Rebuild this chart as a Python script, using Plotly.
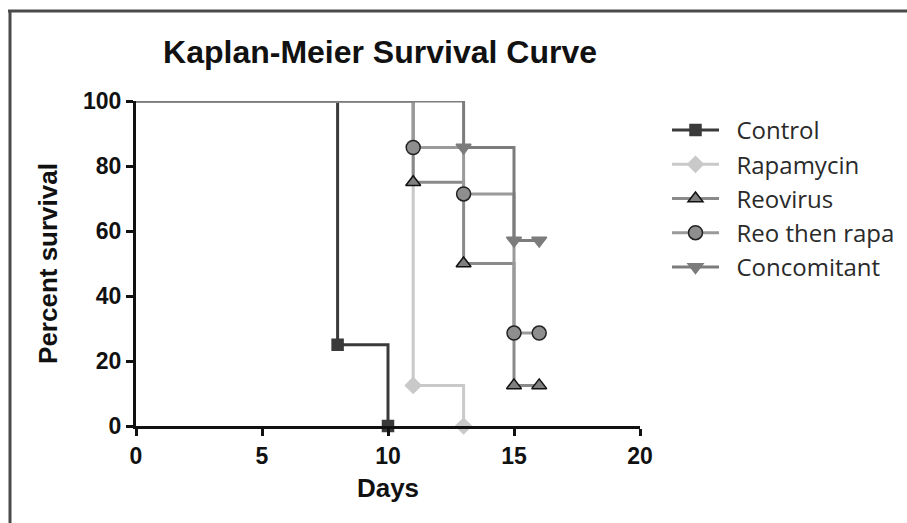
import plotly.graph_objects as go

# ---- data ----
groups = ["Control", "Rapamycin", "Reovirus", "Reo then rapa", "Concomitant"]
control_days = [0, 8, 10]
control_surv = [100, 25, 0]
rapa_days = [0, 11, 13]
rapa_surv = [100, 12.5, 0]
reo_days = [0, 11, 13, 15, 16]
reo_surv = [100, 75, 50, 12.5, 12.5]
reorapa_days = [0, 11, 13, 15, 16]
reorapa_surv = [100, 85.7, 71.4, 28.6, 28.6]
conc_days = [0, 13, 15, 16]
conc_surv = [100, 85.7, 57.1, 57.1]

x_ticks = [0, 5, 10, 15, 20]
y_ticks = [0, 20, 40, 60, 80, 100]

# ---- styles ----
styles = [
    dict(line="#3a3a3a", fill="#3a3a3a", edge="#3a3a3a", symbol="square", size=11),
    dict(line="#c9c9c9", fill="#c9c9c9", edge="#c9c9c9", symbol="diamond", size=12),
    dict(line="#8a8a8a", fill="#808080", edge="#111111", symbol="triangle-up", size=13),
    dict(line="#9a9a9a", fill="#8e8e8e", edge="#222222", symbol="circle", size=14),
    dict(line="#7c7c7c", fill="#7c7c7c", edge="#7c7c7c", symbol="triangle-down", size=13),
]
series = [
    (control_days, control_surv),
    (rapa_days, rapa_surv),
    (reo_days, reo_surv),
    (reorapa_days, reorapa_surv),
    (conc_days, conc_surv),
]

fig = go.Figure()
for name, (xs, ys), st in zip(groups, series, styles):
    mk = dict(symbol=st["symbol"], size=st["size"], color=st["fill"],
              line=dict(color=st["edge"], width=1.5))
    fig.add_trace(go.Scatter(x=xs, y=ys, mode="lines", line_shape="hv",
                             line=dict(color=st["line"], width=3),
                             showlegend=False, cliponaxis=False, hoverinfo="skip"))
    fig.add_trace(go.Scatter(x=xs[1:], y=ys[1:], mode="markers", marker=mk,
                             showlegend=False, cliponaxis=False, name=name))
    fig.add_trace(go.Scatter(x=[None], y=[None], mode="lines+markers",
                             name="&nbsp;&nbsp;" + name,
                             line=dict(color=st["line"], width=3), marker=mk))

L, R, T, B = 136, 267, 101, 97
W, H = 907, 523
pw, ph = W - L - R, H - T - B

def px_x(px):
    return (px - L) / pw

def px_y(py):
    return (H - B - py) / ph

fig.update_layout(
    width=W, height=H,
    margin=dict(l=L, r=R, t=T, b=B, autoexpand=False),
    paper_bgcolor="white", plot_bgcolor="white",
    font=dict(family="Liberation Sans, Arial, sans-serif", color="#111111"),
    title=dict(text="<b>Kaplan-Meier Survival Curve</b>", x=px_x(380), xanchor="center",
               y=1 - 52 / H, yanchor="middle", xref="paper",
               font=dict(size=32, color="#111111", family="Liberation Sans, Arial, sans-serif")),
    legend=dict(x=px_x(667), xanchor="left", y=px_y(108), yanchor="top",
                font=dict(size=24, family="Open Sans, Lato, sans-serif", color="#2a2a2a"),
                itemwidth=47, bgcolor="rgba(0,0,0,0)", tracegroupgap=0),
    showlegend=True,
)
fig.update_xaxes(range=[0, 20], tickvals=x_ticks, ticktext=[f"<b>{v}</b>" for v in x_ticks],
                 showgrid=False, zeroline=False,
                 showline=True, linecolor="#111111", linewidth=3,
                 ticks="outside", ticklen=7, tickwidth=3, tickcolor="#111111",
                 tickfont=dict(size=23, family="Liberation Sans, Arial", color="#111111"),
                 title=dict(text="<b>Days</b>", font=dict(size=26, color="#111111"), standoff=12))
fig.update_yaxes(range=[0, 100], tickvals=y_ticks, ticktext=[f"<b>{v}</b>" for v in y_ticks],
                 showgrid=False, zeroline=False,
                 showline=True, linecolor="#111111", linewidth=3,
                 ticks="outside", ticklen=7, tickwidth=3, tickcolor="#111111",
                 tickfont=dict(size=23, family="Liberation Sans, Arial", color="#111111"),
                 title=dict(text="<b>Percent survival</b>", font=dict(size=26, color="#111111"), standoff=18))

# frame lines (top and left) around the image
fig.add_shape(type="line", xref="paper", yref="paper",
              x0=px_x(8), x1=px_x(910), y0=px_y(11), y1=px_y(11),
              line=dict(color="#4a4a4a", width=3))
fig.add_shape(type="line", xref="paper", yref="paper",
              x0=px_x(10), x1=px_x(10), y0=px_y(10), y1=px_y(530),
              line=dict(color="#4a4a4a", width=3))

fig.write_html("out.html")
